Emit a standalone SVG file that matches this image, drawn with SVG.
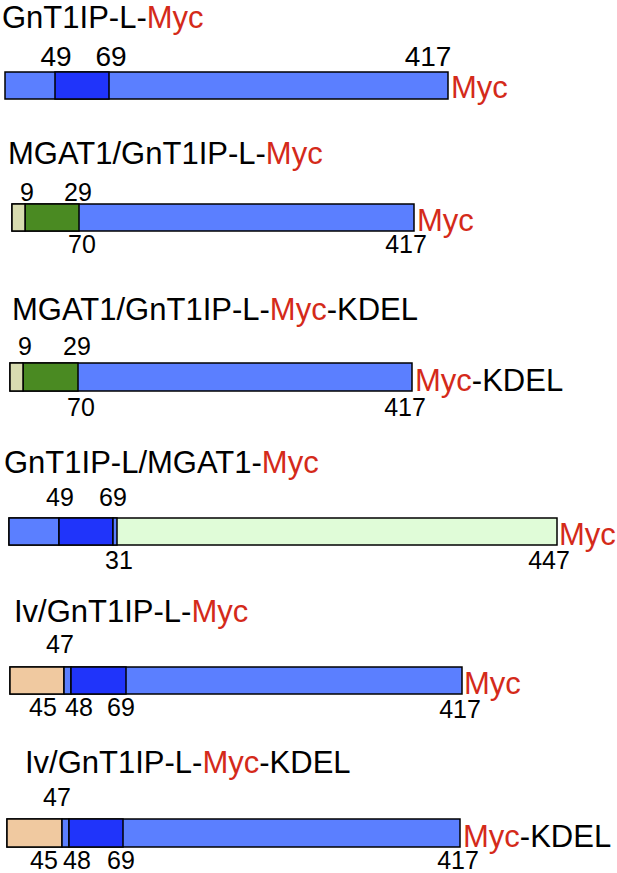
<svg xmlns="http://www.w3.org/2000/svg" width="617" height="873" viewBox="0 0 617 873">
<style>
text{font-family:"Liberation Sans",Arial,Helvetica,sans-serif;fill:#000}
.t{font-size:31px}
.n{font-size:25px;text-anchor:middle}
.n1{font-size:28px;text-anchor:middle}
.m{font-size:31px}
.r{fill:#d42a1a}
.bar{stroke:#000;stroke-width:1.5}
.lb{fill:#5b7fff}
.db{fill:#2034fa}
.gr{fill:#4a8a22}
.lg{fill:#d8dcb0}
.pg{fill:#e0fcd8}
.tan{fill:#f0c9a0}
</style>
<rect width="617" height="873" fill="#fff"/>

<g id="c1">
<text class="t" x="2" y="28">GnT1IP-L-<tspan class="r">Myc</tspan></text>
<text class="n1" x="56" y="66">49</text>
<text class="n1" x="111" y="66">69</text>
<text class="n1" x="428" y="66">417</text>
<rect class="bar lb" x="5" y="72" width="443" height="27"/>
<rect class="bar db" x="55" y="72" width="54" height="27"/>
<text class="m r" x="451" y="98">Myc</text>
</g>

<g id="c2">
<text class="t" x="8" y="164">MGAT1/GnT1IP-L-<tspan class="r">Myc</tspan></text>
<text class="n" x="27" y="201">9</text>
<text class="n" x="78" y="201">29</text>
<rect class="bar lb" x="12" y="204" width="402" height="27"/>
<rect class="bar gr" x="25" y="204" width="54" height="27"/>
<rect class="bar lg" x="12" y="204" width="13" height="27"/>
<text class="m r" x="417" y="231">Myc</text>
<text class="n" x="82" y="253">70</text>
<text class="n" x="406" y="253">417</text>
</g>

<g id="c3">
<text class="t" x="12" y="320">MGAT1/GnT1IP-L-<tspan class="r">Myc</tspan>-KDEL</text>
<text class="n" x="25" y="355">9</text>
<text class="n" x="77" y="355">29</text>
<rect class="bar lb" x="10" y="363" width="402" height="28"/>
<rect class="bar gr" x="23" y="363" width="55" height="28"/>
<rect class="bar lg" x="10" y="363" width="13" height="28"/>
<text class="m" x="415" y="391"><tspan class="r">Myc</tspan>-KDEL</text>
<text class="n" x="81" y="416">70</text>
<text class="n" x="405" y="416">417</text>
</g>

<g id="c4">
<text class="t" x="4" y="473">GnT1IP-L/MGAT1-<tspan class="r">Myc</tspan></text>
<text class="n" x="60" y="506">49</text>
<text class="n" x="113" y="506">69</text>
<rect class="bar pg" x="9" y="518" width="548" height="27"/>
<rect class="bar lb" x="9" y="518" width="50" height="27"/>
<rect class="bar db" x="59" y="518" width="54" height="27"/>
<rect class="bar lb" x="113" y="518" width="4" height="27"/>
<text class="m r" x="559" y="545">Myc</text>
<text class="n" x="119" y="569">31</text>
<text class="n" x="549" y="569">447</text>
</g>

<g id="c5">
<text class="t" x="14" y="622">Iv/GnT1IP-L-<tspan class="r">Myc</tspan></text>
<text class="n" x="60" y="653">47</text>
<rect class="bar lb" x="10" y="667" width="452" height="27"/>
<rect class="bar tan" x="10" y="667" width="54" height="27"/>
<rect class="bar lb" x="64" y="667" width="7" height="27"/>
<rect class="bar db" x="71" y="667" width="55" height="27"/>
<text class="m r" x="464" y="694">Myc</text>
<text class="n" x="43" y="716">45</text>
<text class="n" x="79" y="716">48</text>
<text class="n" x="121" y="716">69</text>
<text class="n" x="460" y="718">417</text>
</g>

<g id="c6">
<text class="t" x="25" y="773">Iv/GnT1IP-L-<tspan class="r">Myc</tspan>-KDEL</text>
<text class="n" x="57" y="806">47</text>
<rect class="bar lb" x="7" y="819" width="453" height="28"/>
<rect class="bar tan" x="7" y="819" width="55" height="28"/>
<rect class="bar lb" x="62" y="819" width="7" height="28"/>
<rect class="bar db" x="69" y="819" width="54" height="28"/>
<text class="m" x="463" y="847"><tspan class="r">Myc</tspan>-KDEL</text>
<text class="n" x="44" y="869">45</text>
<text class="n" x="77" y="869">48</text>
<text class="n" x="121" y="869">69</text>
<text class="n" x="458" y="869">417</text>
</g>
</svg>
